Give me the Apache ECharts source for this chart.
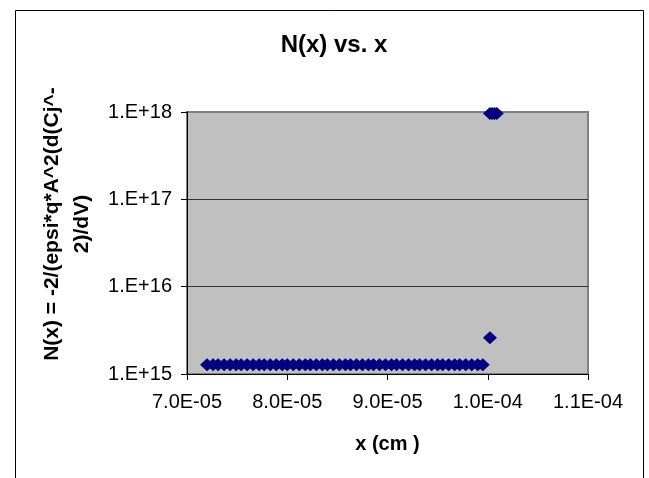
<!DOCTYPE html>
<html>
<head>
<meta charset="utf-8">
<script src="https://cdn.jsdelivr.net/npm/echarts@6/dist/echarts.min.js"></script>
<style>
html,body{margin:0;padding:0;background:#fff;}
#chart{width:649px;height:478px;}
</style>
</head>
<body>
<div id="chart"></div>
<script>
// Flat (bulk) region
const xBulk = [7.20e-5, 7.26e-5, 7.31e-5, 7.37e-5, 7.43e-5, 7.49e-5, 7.54e-5, 7.60e-5, 7.66e-5, 7.72e-5,
  7.77e-5, 7.83e-5, 7.89e-5, 7.95e-5, 8.00e-5, 8.06e-5, 8.12e-5, 8.18e-5, 8.23e-5, 8.29e-5,
  8.35e-5, 8.40e-5, 8.46e-5, 8.52e-5, 8.58e-5, 8.63e-5, 8.69e-5, 8.75e-5, 8.81e-5, 8.86e-5,
  8.92e-5, 8.98e-5, 9.04e-5, 9.09e-5, 9.15e-5, 9.21e-5, 9.27e-5, 9.32e-5, 9.38e-5, 9.44e-5,
  9.50e-5, 9.55e-5, 9.61e-5, 9.67e-5, 9.72e-5, 9.78e-5, 9.84e-5, 9.90e-5, 9.95e-5];
const yBulk = [1.28e15, 1.28e15, 1.28e15, 1.28e15, 1.28e15, 1.28e15, 1.28e15, 1.28e15, 1.28e15, 1.28e15,
  1.28e15, 1.28e15, 1.28e15, 1.28e15, 1.28e15, 1.28e15, 1.28e15, 1.28e15, 1.28e15, 1.28e15,
  1.28e15, 1.28e15, 1.28e15, 1.28e15, 1.28e15, 1.28e15, 1.28e15, 1.28e15, 1.28e15, 1.28e15,
  1.28e15, 1.28e15, 1.28e15, 1.28e15, 1.28e15, 1.28e15, 1.28e15, 1.28e15, 1.28e15, 1.28e15,
  1.28e15, 1.28e15, 1.28e15, 1.28e15, 1.28e15, 1.28e15, 1.28e15, 1.28e15, 1.28e15];
// Edge region
const xEdge = [1.0022e-4, 1.0022e-4, 1.0045e-4, 1.0068e-4, 1.0090e-4];
const yEdge = [2.6e15, 9.6e17, 9.6e17, 9.6e17, 9.6e17];

const xTicks = { min: 7e-5, max: 1.1e-4, interval: 1e-5 };
const yTicks = { min: 1e15, max: 1e18 };

const titleText = 'N(x) vs. x';
const xName = 'x (cm )';
const yName = 'N(x) = -2/(epsi*q*A^2(d(Cj^-\n2)/dV)';

const points = xBulk.map((x, i) => [x, yBulk[i]]).concat(xEdge.map((x, i) => [x, yEdge[i]]));

function fmtX(v) {
  const s = v.toExponential(1).toUpperCase();
  const m = s.match(/^(-?[\d.]+)E([+-])(\d+)$/);
  if (!m) return s;
  return m[1] + 'E' + m[2] + (m[3].length < 2 ? '0' + m[3] : m[3]);
}
function fmtY(v) {
  return '1.E+' + Math.round(Math.log10(v));
}

const FONT = '"Liberation Sans", Arial, sans-serif';
const chart = echarts.init(document.getElementById('chart'), null, { renderer: 'canvas' });
chart.setOption({
  animation: false,
  backgroundColor: '#ffffff',
  title: {
    text: titleText,
    left: 329, top: 28, textAlign: 'center',
    textStyle: { fontFamily: FONT, fontSize: 24, fontWeight: 'bold', color: '#000' }
  },
  graphic: [{
    type: 'rect', silent: true, z: 100,
    shape: { x: 15.5, y: 10.5, width: 628, height: 500 },
    style: { fill: 'none', stroke: '#000', lineWidth: 1 }
  }],
  grid: {
    left: 187, right: 61, top: 112, bottom: 104,
    show: true, backgroundColor: '#C0C0C0', borderColor: '#808080', borderWidth: 2
  },
  xAxis: {
    type: 'value',
    min: xTicks.min, max: xTicks.max, interval: xTicks.interval,
    name: xName, nameLocation: 'middle', nameGap: 60,
    nameTextStyle: { fontFamily: FONT, fontSize: 20, fontWeight: 'bold', color: '#000' },
    axisLine: { show: true, onZero: false, lineStyle: { color: '#000', width: 1 } },
    axisTick: { show: true, length: 6, lineStyle: { color: '#000' } },
    axisLabel: { formatter: fmtX, margin: 18, fontFamily: FONT, fontSize: 20, color: '#000' },
    splitLine: { show: false }
  },
  yAxis: {
    type: 'log', logBase: 10,
    min: yTicks.min, max: yTicks.max,
    name: yName, nameLocation: 'middle', nameGap: 81, nameRotate: 90,
    nameTextStyle: { fontFamily: FONT, fontSize: 21, fontWeight: 'bold', color: '#000',
      lineHeight: 30, align: 'center', padding: [0, 0, 0, 38] },
    axisLine: { show: true, onZero: false, lineStyle: { color: '#000', width: 1 } },
    axisTick: { show: true, length: 6, lineStyle: { color: '#000' } },
    axisLabel: { formatter: fmtY, margin: 15, fontFamily: FONT, fontSize: 20, color: '#000' },
    splitLine: { show: true, showMinLine: false, showMaxLine: false, lineStyle: { color: '#333', width: 1 } }
  },
  series: [{
    type: 'scatter',
    data: points,
    symbol: 'diamond',
    symbolSize: [14, 13],
    clip: false,
    itemStyle: { color: '#000080', opacity: 1 }
  }]
});
</script>
</body>
</html>
